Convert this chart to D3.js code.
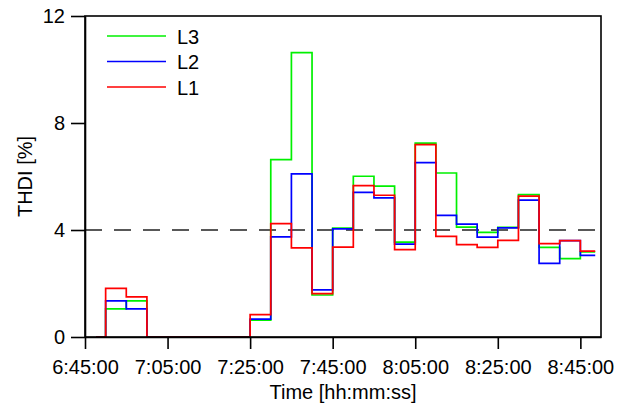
<!DOCTYPE html>
<html>
<head>
<meta charset="utf-8">
<script src="https://cdn.jsdelivr.net/npm/d3@7"></script>
<style>
  body { margin: 0; background: #fff; }
  text { font-family: "Liberation Sans", Arial, sans-serif; }
</style>
</head>
<body>
<div id="container"></div>
<script>
/** DATA */
// start of each 5 min step, last entry is where the trace ends
const times = ["6:47:40", "6:50:00", "6:55:00", "7:00:00", "7:05:00", "7:10:00", "7:15:00",
  "7:20:00", "7:25:00", "7:30:00", "7:35:00", "7:40:00", "7:45:00", "7:50:00", "7:55:00",
  "8:00:00", "8:05:00", "8:10:00", "8:15:00", "8:20:00", "8:25:00", "8:30:00", "8:35:00",
  "8:40:00", "8:45:00", "8:48:36"];

const L1 = [0, 1.82, 1.50, 0, 0, 0, 0, 0, 0.84, 4.24, 3.33, 1.62, 3.36, 5.66, 5.30,
  3.27, 7.19, 3.76, 3.45, 3.35, 3.61, 5.27, 3.49, 3.60, 3.21];
const L2 = [0, 1.35, 1.05, 0, 0, 0, 0, 0, 0.67, 3.74, 6.10, 1.76, 4.04, 5.41, 5.20,
  3.47, 6.52, 4.55, 4.22, 3.73, 4.08, 5.12, 2.75, 3.60, 3.05];
const L3 = [0, 1.05, 1.35, 0, 0, 0, 0, 0, 0.63, 6.63, 10.63, 1.57, 4.07, 6.01, 5.64,
  3.55, 7.25, 6.13, 4.11, 3.91, 4.10, 5.32, 3.35, 2.93, 3.18];

const xTicks = ["6:45:00", "7:05:00", "7:25:00", "7:45:00", "8:05:00", "8:25:00", "8:45:00"];
const yTicks = [0, 4, 8, 12];
const limit = 4;

const series = [
  { name: "L3", values: L3, color: "#00f000" },
  { name: "L2", values: L2, color: "#0000ff" },
  { name: "L1", values: L1, color: "#ff0000" }
];

/** CONSTANTS */
const width = 627, height = 407,
  margin = { top: 16, bottom: 70, left: 85, right: 26 },
  fontSize = 20;

const parseT = d3.timeParse("%H:%M:%S");

const svg = d3.select("#container")
  .append("svg")
  .attr("width", width)
  .attr("height", height);

const x = d3.scaleTime()
  .domain([parseT("6:45:00"), parseT("8:50:00")])
  .range([margin.left, width - margin.right]);

const y = d3.scaleLinear()
  .domain([0, 12])
  .range([height - margin.bottom, margin.top]);

// dashed limit line
svg.append("line")
  .attr("x1", margin.left)
  .attr("x2", width - margin.right)
  .attr("y1", y(limit))
  .attr("y2", y(limit))
  .attr("stroke", "#222")
  .attr("stroke-width", 1.6)
  .attr("stroke-dasharray", "17,12");

// step lines, the last value is repeated so the step runs to the end time
const line = d3.line()
  .x(d => x(d.t))
  .y(d => y(d.v))
  .curve(d3.curveStepAfter);

series.forEach(s => {
  const pts = times.map((t, i) => ({ t: parseT(t), v: s.values[Math.min(i, s.values.length - 1)] }));
  svg.append("path")
    .datum(pts)
    .attr("fill", "none")
    .attr("stroke", s.color)
    .attr("stroke-width", 1.7)
    .attr("d", line);
});

// frame
svg.append("rect")
  .attr("x", margin.left)
  .attr("y", margin.top)
  .attr("width", width - margin.left - margin.right)
  .attr("height", height - margin.top - margin.bottom)
  .attr("fill", "none")
  .attr("stroke", "#000")
  .attr("stroke-width", 1.6);

// axes
const xAxis = svg.append("g")
  .attr("transform", `translate(0,${height - margin.bottom})`)
  .call(d3.axisBottom(x)
    .tickValues(xTicks.map(parseT))
    .tickFormat(d3.timeFormat("%-H:%M:%S"))
    .tickSizeInner(12)
    .tickSizeOuter(0)
    .tickPadding(11));

const yAxis = svg.append("g")
  .attr("transform", `translate(${margin.left},0)`)
  .call(d3.axisLeft(y)
    .tickValues(yTicks)
    .tickSizeInner(14)
    .tickSizeOuter(0)
    .tickPadding(6));

[xAxis, yAxis].forEach(g => {
  g.selectAll("path, line").attr("stroke", "#000").attr("stroke-width", 1.6);
  g.selectAll("text").attr("font-size", fontSize).attr("fill", "#000")
    .style("font-family", "'Liberation Sans', Arial, sans-serif");
});

// axis titles
svg.append("text")
  .attr("x", (margin.left + width - margin.right) / 2)
  .attr("y", 399)
  .attr("text-anchor", "middle")
  .attr("font-size", fontSize)
  .text("Time [hh:mm:ss]");

svg.append("text")
  .attr("transform", `translate(32,${(margin.top + height - margin.bottom) / 2}) rotate(-90)`)
  .attr("text-anchor", "middle")
  .attr("font-size", fontSize)
  .text("THDI [%]");

// legend
const legend = svg.append("g");
series.forEach((s, i) => {
  const ly = 36 + i * 25.5;
  legend.append("line")
    .attr("x1", 107).attr("x2", 166)
    .attr("y1", ly).attr("y2", ly)
    .attr("stroke", s.color)
    .attr("stroke-width", 1.7);
  legend.append("text")
    .attr("x", 177)
    .attr("y", ly + 7.5)
    .attr("font-size", fontSize)
    .text(s.name);
});
</script>
</body>
</html>
